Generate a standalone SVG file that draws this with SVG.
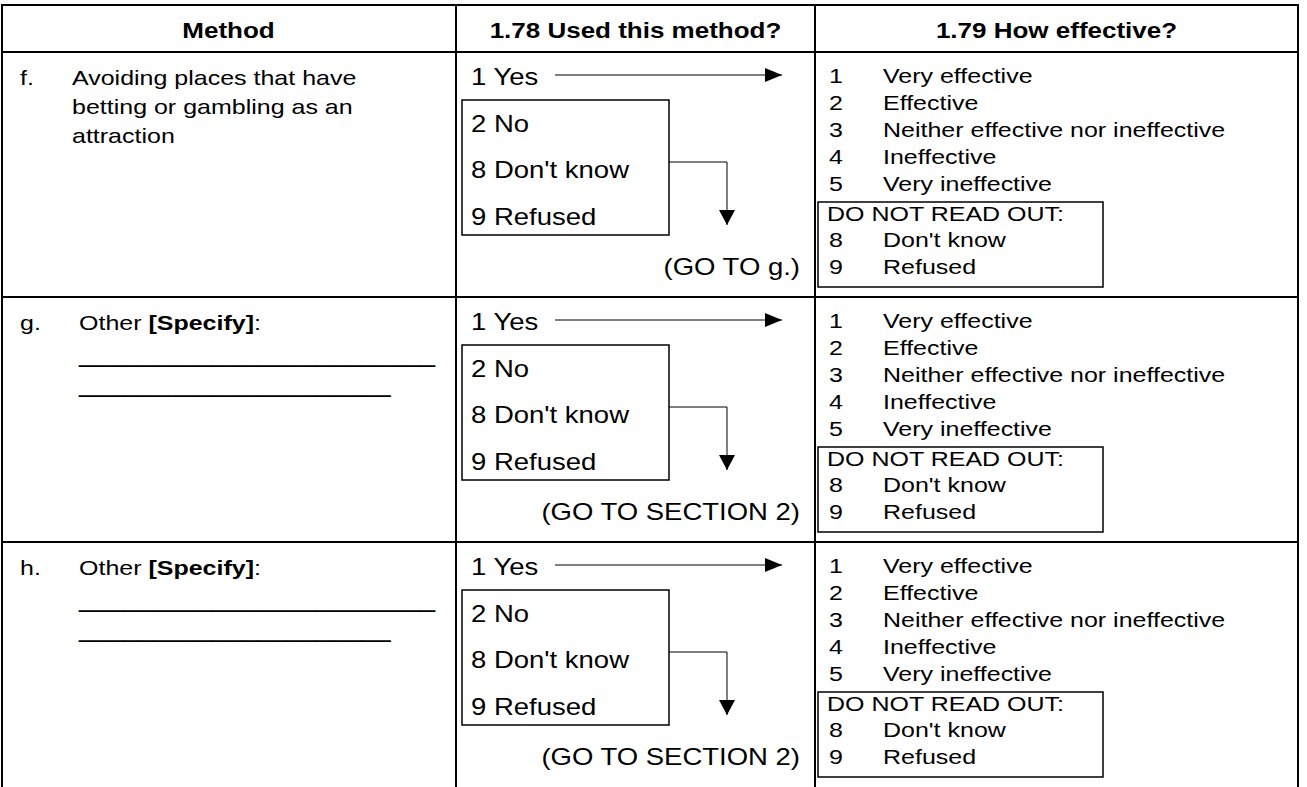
<svg xmlns="http://www.w3.org/2000/svg" width="1307" height="787" viewBox="0 0 1307 787">
<style>
  text { font-family: "Liberation Sans", Arial, sans-serif; fill: #000; }
  .hd { font-size: 26px; font-weight: bold; text-anchor: middle; }
  .c1 { font-size: 25px; }
  .c2 { font-size: 27.5px; }
  .c3 { font-size: 25px; }
  .us { font-size: 26.7px; }
  .end { text-anchor: end; }
  .b { font-weight: bold; }
  .grid { stroke: #000; stroke-width: 2; fill: none; }
  .box { stroke: #000; stroke-width: 1.5; fill: none; }
  .conn { stroke: #000; stroke-width: 1; fill: none; }
</style>
<defs>
  <marker id="ah" viewBox="0 0 17 14" refX="17" refY="7" markerWidth="17" markerHeight="14" markerUnits="userSpaceOnUse" orient="auto">
    <path d="M0,0 L17,7 L0,14 Z" fill="#000"/>
  </marker>
  <marker id="av" viewBox="0 0 15 16" refX="15" refY="8" markerWidth="15" markerHeight="16" markerUnits="userSpaceOnUse" orient="auto">
    <path d="M0,0 L15,8 L0,16 Z" fill="#000"/>
  </marker>
</defs>
<rect width="1307" height="787" fill="#fff"/>

<g id="table-grid" class="grid">
  <line x1="1" y1="5" x2="1299" y2="5"/>
  <line x1="1" y1="52" x2="1299" y2="52"/>
  <line x1="1" y1="297" x2="1299" y2="297"/>
  <line x1="1" y1="542" x2="1299" y2="542"/>
  <line x1="2" y1="4" x2="2" y2="787"/>
  <line x1="456" y1="4" x2="456" y2="787"/>
  <line x1="815" y1="4" x2="815" y2="787"/>
  <line x1="1298" y1="4" x2="1298" y2="787"/>
</g>

<g id="header">
  <text class="hd" x="228.5" transform="translate(0,38) scale(1,0.84)">Method</text>
  <text class="hd" x="635.5" transform="translate(0,38) scale(1,0.84)">1.78 Used this method?</text>
  <text class="hd" x="1056.5" transform="translate(0,38) scale(1,0.84)">1.79 How effective?</text>
</g>

<!-- Row f -->
<g id="row-f-method">
  <text class="c1" x="20" transform="translate(0,85) scale(1,0.84)">f.</text>
  <text class="c1" x="72" transform="translate(0,85) scale(1,0.84)">Avoiding places that have</text>
  <text class="c1" x="72" transform="translate(0,114) scale(1,0.84)">betting or gambling as an</text>
  <text class="c1" x="72" transform="translate(0,143) scale(1,0.84)">attraction</text>
</g>
<g id="row-f-used">
  <text class="c2" x="471" transform="translate(0,85) scale(1,0.84)">1 Yes</text>
  <rect class="box" x="462" y="100" width="207" height="135"/>
  <text class="c2" x="471" transform="translate(0,132) scale(1,0.84)">2 No</text>
  <text class="c2" x="471" transform="translate(0,178) scale(1,0.84)">8 Don't know</text>
  <text class="c2" x="471" transform="translate(0,225) scale(1,0.84)">9 Refused</text>
  <text class="c2 end" x="800" transform="translate(0,275) scale(1,0.84)">(GO TO g.)</text>
</g>
<g id="row-f-effective">
  <text class="c3" x="829" transform="translate(0,83) scale(1,0.84)">1</text><text class="c3" x="883" transform="translate(0,83) scale(1,0.84)">Very effective</text>
  <text class="c3" x="829" transform="translate(0,110) scale(1,0.84)">2</text><text class="c3" x="883" transform="translate(0,110) scale(1,0.84)">Effective</text>
  <text class="c3" x="829" transform="translate(0,137) scale(1,0.84)">3</text><text class="c3" x="883" transform="translate(0,137) scale(1,0.84)">Neither effective nor ineffective</text>
  <text class="c3" x="829" transform="translate(0,164) scale(1,0.84)">4</text><text class="c3" x="883" transform="translate(0,164) scale(1,0.84)">Ineffective</text>
  <text class="c3" x="829" transform="translate(0,191) scale(1,0.84)">5</text><text class="c3" x="883" transform="translate(0,191) scale(1,0.84)">Very ineffective</text>
  <rect class="box" x="818" y="202" width="285" height="85"/>
  <text class="c3" x="827" transform="translate(0,221) scale(1,0.84)">DO NOT READ OUT:</text>
  <text class="c3" x="829" transform="translate(0,247) scale(1,0.84)">8</text><text class="c3" x="883" transform="translate(0,247) scale(1,0.84)">Don't know</text>
  <text class="c3" x="829" transform="translate(0,274) scale(1,0.84)">9</text><text class="c3" x="883" transform="translate(0,274) scale(1,0.84)">Refused</text>
</g>

<!-- Row g -->
<g id="row-g-method">
  <text class="c1" x="20" transform="translate(0,330) scale(1,0.84)">g.</text>
  <text class="c1" x="79" transform="translate(0,330) scale(1,0.84)">Other <tspan class="b">[Specify]</tspan>:</text>
  <text class="us" x="79" y="362">________________________</text>
  <text class="us" x="79" y="392">_____________________</text>
</g>
<g id="row-g-used">
  <text class="c2" x="471" transform="translate(0,330) scale(1,0.84)">1 Yes</text>
  <rect class="box" x="462" y="345" width="207" height="135"/>
  <text class="c2" x="471" transform="translate(0,377) scale(1,0.84)">2 No</text>
  <text class="c2" x="471" transform="translate(0,423) scale(1,0.84)">8 Don't know</text>
  <text class="c2" x="471" transform="translate(0,470) scale(1,0.84)">9 Refused</text>
  <text class="c2 end" x="800" transform="translate(0,520) scale(1,0.84)">(GO TO SECTION 2)</text>
</g>
<g id="row-g-effective">
  <text class="c3" x="829" transform="translate(0,328) scale(1,0.84)">1</text><text class="c3" x="883" transform="translate(0,328) scale(1,0.84)">Very effective</text>
  <text class="c3" x="829" transform="translate(0,355) scale(1,0.84)">2</text><text class="c3" x="883" transform="translate(0,355) scale(1,0.84)">Effective</text>
  <text class="c3" x="829" transform="translate(0,382) scale(1,0.84)">3</text><text class="c3" x="883" transform="translate(0,382) scale(1,0.84)">Neither effective nor ineffective</text>
  <text class="c3" x="829" transform="translate(0,409) scale(1,0.84)">4</text><text class="c3" x="883" transform="translate(0,409) scale(1,0.84)">Ineffective</text>
  <text class="c3" x="829" transform="translate(0,436) scale(1,0.84)">5</text><text class="c3" x="883" transform="translate(0,436) scale(1,0.84)">Very ineffective</text>
  <rect class="box" x="818" y="447" width="285" height="85"/>
  <text class="c3" x="827" transform="translate(0,466) scale(1,0.84)">DO NOT READ OUT:</text>
  <text class="c3" x="829" transform="translate(0,492) scale(1,0.84)">8</text><text class="c3" x="883" transform="translate(0,492) scale(1,0.84)">Don't know</text>
  <text class="c3" x="829" transform="translate(0,519) scale(1,0.84)">9</text><text class="c3" x="883" transform="translate(0,519) scale(1,0.84)">Refused</text>
</g>

<!-- Row h -->
<g id="row-h-method">
  <text class="c1" x="20" transform="translate(0,575) scale(1,0.84)">h.</text>
  <text class="c1" x="79" transform="translate(0,575) scale(1,0.84)">Other <tspan class="b">[Specify]</tspan>:</text>
  <text class="us" x="79" y="607">________________________</text>
  <text class="us" x="79" y="637">_____________________</text>
</g>
<g id="row-h-used">
  <text class="c2" x="471" transform="translate(0,575) scale(1,0.84)">1 Yes</text>
  <rect class="box" x="462" y="590" width="207" height="135"/>
  <text class="c2" x="471" transform="translate(0,622) scale(1,0.84)">2 No</text>
  <text class="c2" x="471" transform="translate(0,668) scale(1,0.84)">8 Don't know</text>
  <text class="c2" x="471" transform="translate(0,715) scale(1,0.84)">9 Refused</text>
  <text class="c2 end" x="800" transform="translate(0,765) scale(1,0.84)">(GO TO SECTION 2)</text>
</g>
<g id="row-h-effective">
  <text class="c3" x="829" transform="translate(0,573) scale(1,0.84)">1</text><text class="c3" x="883" transform="translate(0,573) scale(1,0.84)">Very effective</text>
  <text class="c3" x="829" transform="translate(0,600) scale(1,0.84)">2</text><text class="c3" x="883" transform="translate(0,600) scale(1,0.84)">Effective</text>
  <text class="c3" x="829" transform="translate(0,627) scale(1,0.84)">3</text><text class="c3" x="883" transform="translate(0,627) scale(1,0.84)">Neither effective nor ineffective</text>
  <text class="c3" x="829" transform="translate(0,654) scale(1,0.84)">4</text><text class="c3" x="883" transform="translate(0,654) scale(1,0.84)">Ineffective</text>
  <text class="c3" x="829" transform="translate(0,681) scale(1,0.84)">5</text><text class="c3" x="883" transform="translate(0,681) scale(1,0.84)">Very ineffective</text>
  <rect class="box" x="818" y="692" width="285" height="85"/>
  <text class="c3" x="827" transform="translate(0,711) scale(1,0.84)">DO NOT READ OUT:</text>
  <text class="c3" x="829" transform="translate(0,737) scale(1,0.84)">8</text><text class="c3" x="883" transform="translate(0,737) scale(1,0.84)">Don't know</text>
  <text class="c3" x="829" transform="translate(0,764) scale(1,0.84)">9</text><text class="c3" x="883" transform="translate(0,764) scale(1,0.84)">Refused</text>
</g>

<g id="connectors" class="conn">
  <line x1="555" y1="75" x2="782" y2="75" marker-end="url(#ah)"/>
  <path d="M669,162 H727 V225" marker-end="url(#av)"/>
  <line x1="555" y1="320" x2="782" y2="320" marker-end="url(#ah)"/>
  <path d="M669,407 H727 V470" marker-end="url(#av)"/>
  <line x1="555" y1="565" x2="782" y2="565" marker-end="url(#ah)"/>
  <path d="M669,652 H727 V715" marker-end="url(#av)"/>
</g>
</svg>
